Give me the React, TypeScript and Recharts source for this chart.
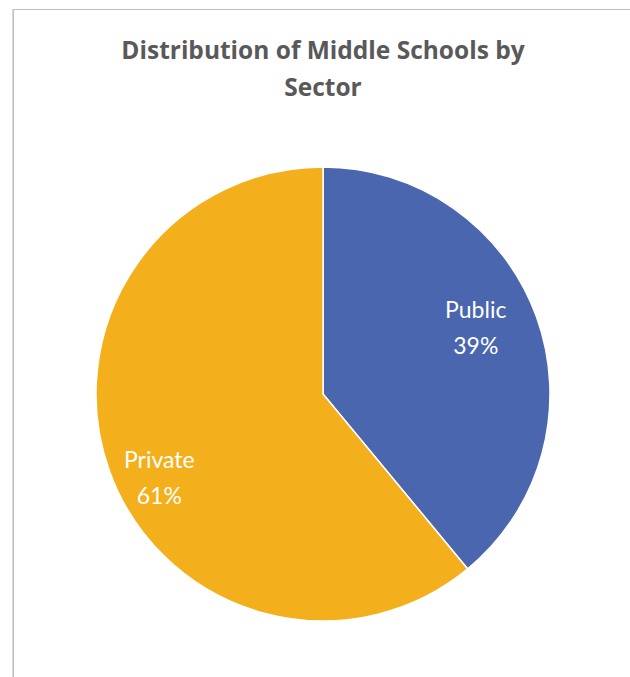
import { PieChart, Pie, Cell } from "recharts";

const SECTORS = ["Public", "Private"];
const SHARES = [39, 61];
const COLORS = ["#4A66AE", "#F4B01C"];
// label placement: distance from centre (share of radius) and angle shift from the slice middle
const LABEL_RADIUS = [0.73, 0.815];
const LABEL_ANGLE_SHIFT = [3, 8];

const data = SECTORS.map((name, i) => ({ name, value: SHARES[i] }));

const RADIAN = Math.PI / 180;

function renderLabel(props: any) {
  const { cx, cy, midAngle, outerRadius, index, name, value } = props;
  const r = outerRadius * LABEL_RADIUS[index];
  const a = (midAngle + LABEL_ANGLE_SHIFT[index]) * RADIAN;
  const x = cx + r * Math.cos(-a);
  const y = cy + r * Math.sin(-a);
  return (
    <text
      x={x}
      y={y}
      fill="#ffffff"
      textAnchor="middle"
      fontFamily="Lato, 'Open Sans', sans-serif"
      fontSize={23}
    >
      <tspan x={x} dy={-12}>
        {name}
      </tspan>
      <tspan x={x} dy={36}>
        {value}%
      </tspan>
    </text>
  );
}

export default function App() {
  return (
    <div
      style={{
        position: "absolute",
        left: 0,
        top: 0,
        width: 630,
        height: 677,
        background: "#ffffff",
        overflow: "hidden",
      }}
    >
      <div
        style={{
          position: "absolute",
          left: 13,
          top: 9,
          width: 640,
          height: 700,
          border: "1px solid #bfbfbf",
          boxShadow: "-1px 0 0 #d9d9d9",
        }}
      />
      <div
        style={{
          position: "absolute",
          left: 13,
          top: 31,
          width: 620,
          textAlign: "center",
          fontFamily: "'Open Sans', sans-serif",
          fontWeight: 700,
          fontSize: 24.5,
          lineHeight: "37px",
          color: "#595959",
        }}
      >
        Distribution of Middle Schools by
        <br />
        Sector
      </div>
      <div style={{ position: "absolute", left: 0, top: 0 }}>
        <PieChart width={630} height={677} margin={{ top: 0, right: 0, bottom: 0, left: 0 }}>
          <Pie
            data={data}
            dataKey="value"
            nameKey="name"
            cx={323}
            cy={394}
            outerRadius={227}
            startAngle={90}
            endAngle={-270}
            stroke="#ffffff"
            strokeWidth={1.5}
            label={renderLabel}
            labelLine={false}
            isAnimationActive={false}
          >
            {data.map((d, i) => (
              <Cell key={d.name} fill={COLORS[i]} />
            ))}
          </Pie>
        </PieChart>
      </div>
    </div>
  );
}
